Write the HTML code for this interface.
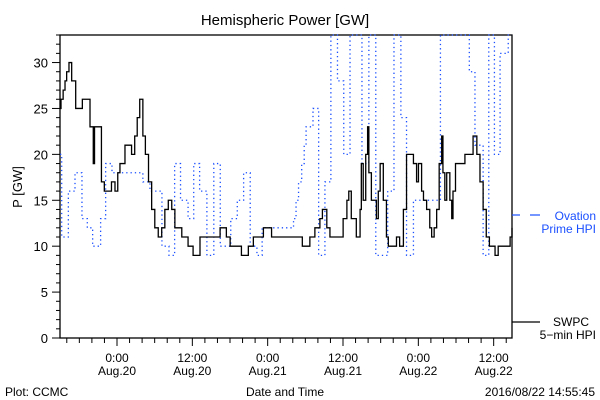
<!DOCTYPE html>
<html><head><meta charset="utf-8"><style>
body{margin:0;background:#fff;}
svg{display:block;font-family:"Liberation Sans",sans-serif;}
</style></head><body>
<svg id="chart" width="600" height="400" viewBox="0 0 600 400">
<text x="285" y="25" font-size="15" text-anchor="middle">Hemispheric Power [GW]</text>
<text transform="translate(22,187) rotate(-90)" font-size="13" text-anchor="middle">P [GW]</text>
<text x="5" y="396" font-size="12">Plot: CCMC</text>
<text x="285" y="396" font-size="12" text-anchor="middle">Date and Time</text>
<text x="595" y="396" font-size="12" text-anchor="end">2016/08/22 14:55:45</text>
<g id="axes"></g>
<g id="series"></g>
<g>
<line x1="512" y1="215" x2="520" y2="215" stroke="#1a4fff" stroke-width="1.2"/>
<line x1="530" y1="215" x2="540" y2="215" stroke="#1a4fff" stroke-width="1.2"/>
<text x="596" y="220" font-size="12" fill="#1a4fff" text-anchor="end">Ovation</text>
<text x="596" y="233" font-size="12" fill="#1a4fff" text-anchor="end">Prime HPI</text>
</g>
<g>
<line x1="512" y1="322" x2="540" y2="322" stroke="#000" stroke-width="1.2"/>
<text x="589" y="326" font-size="12" text-anchor="end">SWPC</text>
<text x="596" y="339" font-size="12" text-anchor="end">5−min HPI</text>
</g>
</svg>
<script>
const yTicks=[0,5,10,15,20,25,30];
const xTickHours=[9.08,21.08,33.08,45.08,57.08,69.08];
const xTickTime=["0:00","12:00","0:00","12:00","0:00","12:00"];
const xTickDate=["Aug.20","Aug.20","Aug.21","Aug.21","Aug.22","Aug.22"];
const swpcHours=[0,0.16,0.5,0.8,1.06,1.43,1.86,2.5,3.45,3.56,4.25,4.78,5.3,5.5,6.1,6.6,7.06,7.7,8.2,8.76,9.2,9.55,10.35,11.4,11.9,12.3,12.7,13.2,13.6,14.1,14.6,15.1,15.65,16.2,16.7,17.25,17.8,18.3,19.4,20.4,21.2,22.3,25.5,26.5,27.1,28.9,30,30.8,32.4,33.7,35,38.6,39.8,40.6,41.4,41.8,42.5,43,44.9,45.1,45.7,46,46.4,47.2,47.8,48,48.3,48.7,49,49.2,49.6,50.2,50.4,50.7,51,51.2,51.5,52,52.3,53.3,53.6,54.1,54.7,55.2,56,56.3,56.8,57.1,57.6,57.9,58.4,58.9,59.2,59.6,60,60.4,60.8,61,61.3,61.6,61.8,62.1,62.4,62.6,63,63.5,64.5,65.3,65.8,66.4,66.9,67.4,67.9,68.4,69.3,69.8,71.7,72];
const swpcValues=[25,26,27,28,29,30,28,25,25,26,26,23,19,23,23,17,16,16,17,16,18,19,21,20,22,24,26,22,20,17,14,12,11,12,14,15,14,12,11,10,9,11,12,11,10,9,10,11,12,11,11,10,11,12,13,14,12,11,11,13,15,16,13,11,14,19,15,20,23,18,15,15,13,16,19,19,15,11,10,10,11,10,14,20,20,19,17,19,16,15,14,12,11,12,14,19,22,18,15,18,18,15,13,16,19,19,20,20,22,20,17,14,11,10,9,10,11,12];
const ovHours=[0,0.27,1.33,2.39,3.5,4.35,5.2,6.47,7.27,8.28,13.2,14.33,16.24,17.36,18.26,19.2,20.4,21.3,22.24,23.4,24.5,25.53,27.2,28.24,29.25,30.3,31.37,32.2,37.2,37.6,38.0,38.5,38.9,39.2,40.3,41.2,42.2,43.15,44.2,45.2,46.2,48.1,49.2,50.3,52.2,53.2,54.3,55.2,56.3,60.6,65.2,66.1,67.4,68.3,69.2,70.1,71.4];
const ovValues=[20,11,16,18,13,12,10,13,19,18,17,16,10,9,19,15,13,19,16,9,19,10,13,15,18,10,9,12,13,15,17,19,21,23,25,9,17,34,28,20,34,19,34,9,16,34,24,9,15,34,29,21,9,34,20,31,34];
const L=60,R=512,T=35,B=338,Hmax=72,Vmax=33;
const xs=h=>L+(h/Hmax)*(R-L);
const ys=v=>B-(Math.min(v,Vmax)/Vmax)*(B-T);
const NS="http://www.w3.org/2000/svg";
const ax=document.getElementById('axes'),se=document.getElementById('series');
function mk(tag,attrs,parent){const e=document.createElementNS(NS,tag);for(const k in attrs)e.setAttribute(k,attrs[k]);parent.appendChild(e);return e;}
const frame=mk('rect',{x:L,y:T,width:R-L,height:B-T,fill:'none',stroke:'#000','stroke-width':1.3},ax);


for(let v=0;v<=Vmax;v++){const major=v%5===0;const t=mk('line',{x1:L-(major?8:4),x2:L,y1:ys(v),y2:ys(v),stroke:'#000'},ax);

}
yTicks.forEach(v=>{const t=mk('text',{x:L-12,y:ys(v)+5,'font-size':13,'text-anchor':'end'},ax);t.textContent=v;

});
for(let h=xTickHours[0]-12;h<=Hmax;h+=2){if(h<0)continue;const major=Math.abs(((h-xTickHours[0])%12+12)%12)<0.01;const t=mk('line',{x1:xs(h),x2:xs(h),y1:B,y2:B+(major?8:5),stroke:'#000'},ax);

}
xTickHours.forEach((h,i)=>{const a=mk('text',{x:xs(h),y:B+24,'font-size':12,'text-anchor':'middle'},ax);a.textContent=xTickTime[i];


const b=mk('text',{x:xs(h),y:B+37,'font-size':12,'text-anchor':'middle'},ax);b.textContent=xTickDate[i];

});
function stepPts(hs,vs){const p=[];for(let i=0;i<hs.length;i++){const x0=xs(hs[i]),x1=xs(i+1<hs.length?hs[i+1]:Hmax);p.push(x0+','+ys(vs[i]),x1+','+ys(vs[i]));}return p.join(' ');}
const ov=mk('polyline',{points:stepPts(ovHours,ovValues),fill:'none',stroke:'#1a4fff','stroke-width':1.3,'stroke-dasharray':'1.3 3'},se);


const sw=mk('polyline',{points:stepPts(swpcHours,swpcValues),fill:'none',stroke:'#000','stroke-width':1.3},se);


</script>
</body></html>
